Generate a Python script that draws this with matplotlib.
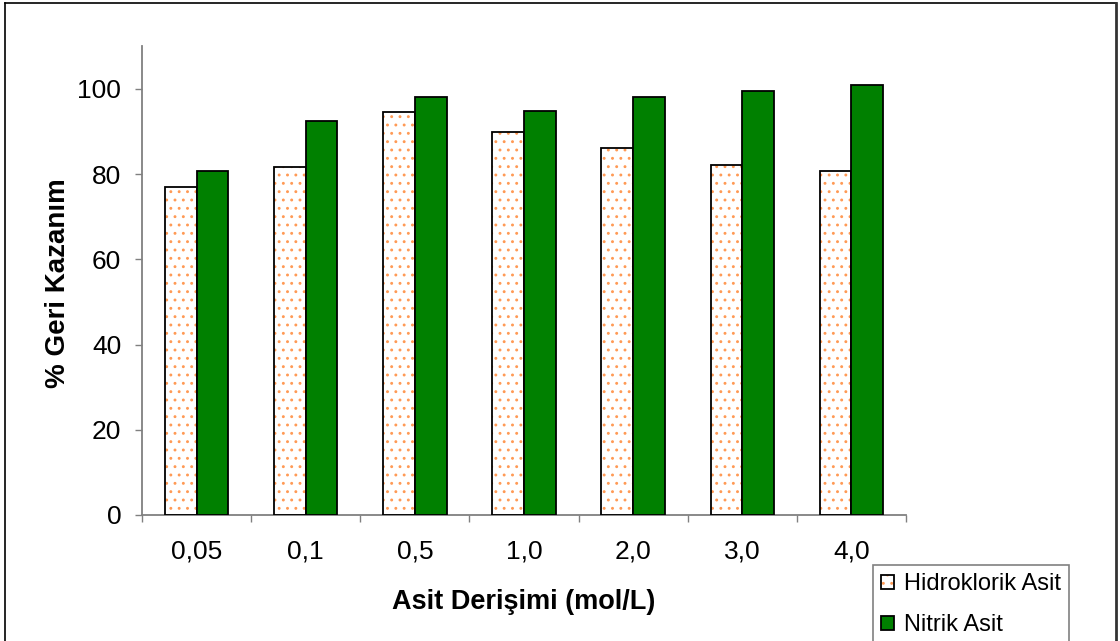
import matplotlib
matplotlib.use("Agg")
import matplotlib.pyplot as plt
from matplotlib.lines import Line2D
from matplotlib.patches import Patch
from matplotlib.legend_handler import HandlerTuple
import numpy as np

plt.rcParams['font.family'] = ['Liberation Sans', 'DejaVu Sans']

categories = ["0,05", "0,1", "0,5", "1,0", "2,0", "3,0", "4,0"]
hcl_values = [77.1, 81.6, 94.5, 90.0, 86.2, 82.2, 80.8]
hno3_values = [80.7, 92.6, 98.2, 94.9, 98.2, 99.5, 100.9]
series_names = ["Hidroklorik Asit", "Nitrik Asit"]
y_ticks = [0, 20, 40, 60, 80, 100]

W, H = 1120, 641
fig = plt.figure(figsize=(W / 100, H / 100), dpi=100)
ax = fig.add_axes([142 / W, 1 - 515 / H, (906 - 142) / W, (515 - 46.4) / H])

x = np.arange(len(categories))
bw = 0.29
hatch_color = "#ff9a55"
green = "#008000"

# dotted fill for the hydrochloric series, drawn under a black outline
plt.rcParams['hatch.linewidth'] = 0.9
ax.bar(x - bw / 2, hcl_values, bw, facecolor="white", edgecolor=hatch_color,
       hatch="..", linewidth=0, zorder=2)
ax.bar(x - bw / 2, hcl_values, bw, fill=False, edgecolor="black",
       linewidth=1.3, zorder=3)
ax.bar(x + bw / 2, hno3_values, bw, color=green, edgecolor="black",
       linewidth=1.3, zorder=3)

ax.set_xlim(-0.5, len(categories) - 0.5)
ax.set_ylim(0, 110)

spine_gray = "#808080"
for s in ("top", "right"):
    ax.spines[s].set_visible(False)
for s in ("left", "bottom"):
    ax.spines[s].set_color(spine_gray)
    ax.spines[s].set_linewidth(1.3)

ax.set_yticks(y_ticks)
ax.set_yticklabels([str(v) for v in y_ticks])
ax.tick_params(axis="y", direction="out", length=5, width=1.0, color=spine_gray,
               pad=10, labelsize=19)

# category boundaries carry the tick marks, centres carry the labels
ax.set_xticks(np.arange(-0.5, len(categories)), minor=False)
ax.set_xticklabels([])
ax.set_xticks(x, minor=True)
ax.set_xticklabels(categories, minor=True)
ax.tick_params(axis="x", which="major", direction="out", length=5, width=1.0,
               color=spine_gray)
ax.tick_params(axis="x", which="minor", length=0, pad=18, labelsize=19)

fig.text(524 / W, 1 - 602 / H, "Asit Derişimi (mol/L)", fontsize=19.5,
         fontweight="bold", ha="center", va="center")
fig.text(58 / W, 1 - 283 / H, "% Geri Kazanım", fontsize=20,
         fontweight="bold", ha="center", va="center", rotation=90)

# legend
h_dots = Patch(facecolor="white", edgecolor=hatch_color, hatch="..", linewidth=0)
h_out = Patch(fill=False, edgecolor="black", linewidth=1.3)
h_green = Patch(facecolor=green, edgecolor="black", linewidth=1.3)
leg = fig.legend([(h_dots, h_out), h_green], series_names,
                 handler_map={tuple: HandlerTuple(ndivide=1, pad=0)},
                 loc="upper left", bbox_to_anchor=(873 / W, 1 - 565 / H),
                 bbox_transform=fig.transFigure, fontsize=17,
                 frameon=True, fancybox=False, shadow=False,
                 handlelength=0.55, handleheight=0.55, handletextpad=0.4,
                 labelspacing=0.8, borderpad=0.35, borderaxespad=0)
leg.get_frame().set_edgecolor("#606060")
leg.get_frame().set_linewidth(1.2)

# outer frame of the figure
fx0, fy0, fx1 = 5 / W, 3 / H, 1116 / W
fig.add_artist(Line2D([fx0, fx1], [1 - fy0, 1 - fy0], transform=fig.transFigure,
                      color="black", linewidth=1.2))
fig.add_artist(Line2D([fx0, fx0], [1 - fy0, 0], transform=fig.transFigure,
                      color="black", linewidth=1.2))
fig.add_artist(Line2D([fx1, fx1], [1 - fy0, 0], transform=fig.transFigure,
                      color="#333333", linewidth=2.0))

fig.savefig("out.png", dpi=100)
